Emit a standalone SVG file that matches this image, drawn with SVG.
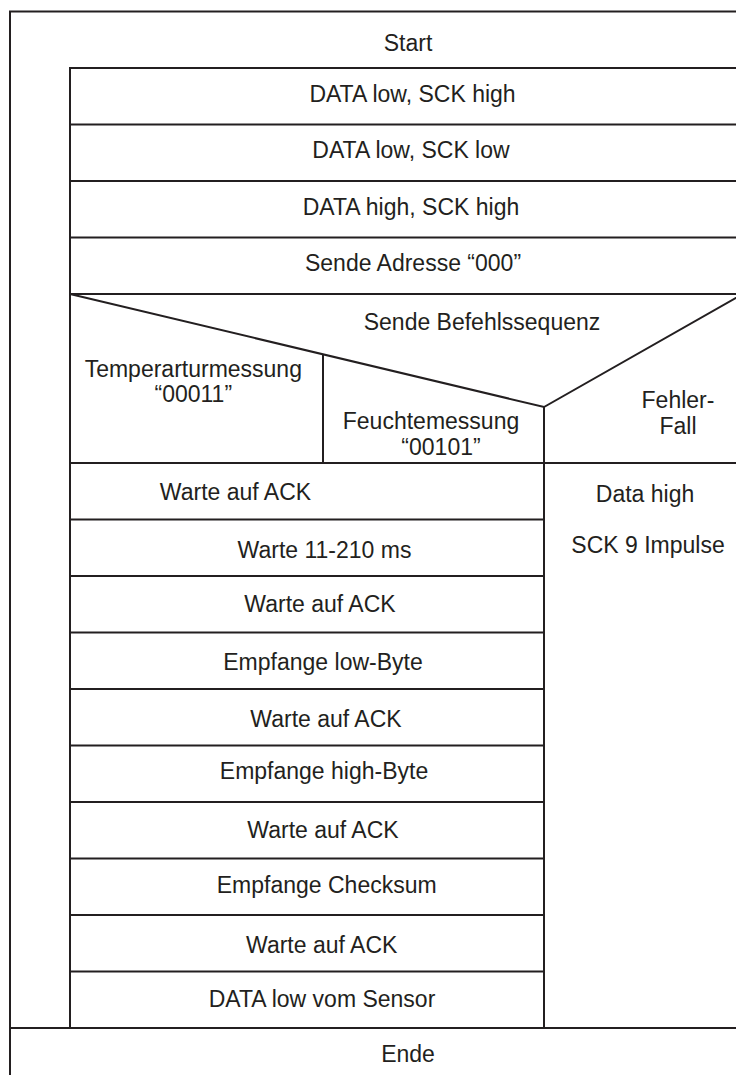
<svg xmlns="http://www.w3.org/2000/svg" width="736" height="1075" viewBox="0 0 736 1075">
<style>
.ln{stroke:#231f20;stroke-width:2;fill:none}
.t{font-family:"Liberation Sans",Arial,sans-serif;font-size:23px;fill:#231f20;text-anchor:middle}
</style>
<rect width="736" height="1075" fill="#ffffff"/>
<g id="connectors" class="ln">
<path d="M10,1080 V11.5 H750"/>
<path d="M70,1028 V68 H750"/>
<path d="M70,124.5 H750 M70,181 H750 M70,237.5 H750 M70,294 H750"/>
<path d="M70,294 L544,407 L750,290"/>
<path d="M323,354.3 V463"/>
<path d="M70,463 H750"/>
<path d="M544,407 V1028"/>
<path d="M70,519.5 H544 M70,576 H544 M70,632.5 H544 M70,689 H544 M70,745.5 H544 M70,802 H544 M70,858.5 H544 M70,915 H544 M70,971.5 H544"/>
<path d="M10,1028 H750"/>
</g>
<g id="start"><text class="t" x="408" y="50.7">Start</text></g>
<g id="n1"><text class="t" x="412.5" y="101.7">DATA low, SCK high</text></g>
<g id="n2"><text class="t" x="411" y="158">DATA low, SCK low</text></g>
<g id="n3"><text class="t" x="411" y="214.5">DATA high, SCK high</text></g>
<g id="n4"><text class="t" x="413" y="270.7">Sende Adresse “000”</text></g>
<g id="decision"><text class="t" x="482" y="330">Sende Befehlssequenz</text></g>
<g id="case1"><text class="t" x="193.3" y="376.7">Temperarturmessung</text><text class="t" x="193.3" y="401.7">“00011”</text></g>
<g id="case2"><text class="t" x="431" y="429">Feuchtemessung</text><text class="t" x="441" y="455">“00101”</text></g>
<g id="case3"><text class="t" x="678" y="408.3">Fehler-</text><text class="t" x="678" y="434">Fall</text></g>
<g id="err"><text class="t" x="645" y="501.7">Data high</text><text class="t" x="648" y="552.7">SCK 9 Impulse</text></g>
<g id="r1"><text class="t" x="235.5" y="500">Warte auf ACK</text></g>
<g id="r2"><text class="t" x="324.5" y="558">Warte 11-210 ms</text></g>
<g id="r3"><text class="t" x="320" y="611.7">Warte auf ACK</text></g>
<g id="r4"><text class="t" x="323" y="670">Empfange low-Byte</text></g>
<g id="r5"><text class="t" x="326" y="726.7">Warte auf ACK</text></g>
<g id="r6"><text class="t" x="324" y="779.3">Empfange high-Byte</text></g>
<g id="r7"><text class="t" x="323" y="838.3">Warte auf ACK</text></g>
<g id="r8"><text class="t" x="326.7" y="893.3">Empfange Checksum</text></g>
<g id="r9"><text class="t" x="321.7" y="953.3">Warte auf ACK</text></g>
<g id="r10"><text class="t" x="322" y="1007">DATA low vom Sensor</text></g>
<g id="ende"><text class="t" x="408" y="1062">Ende</text></g>
</svg>
